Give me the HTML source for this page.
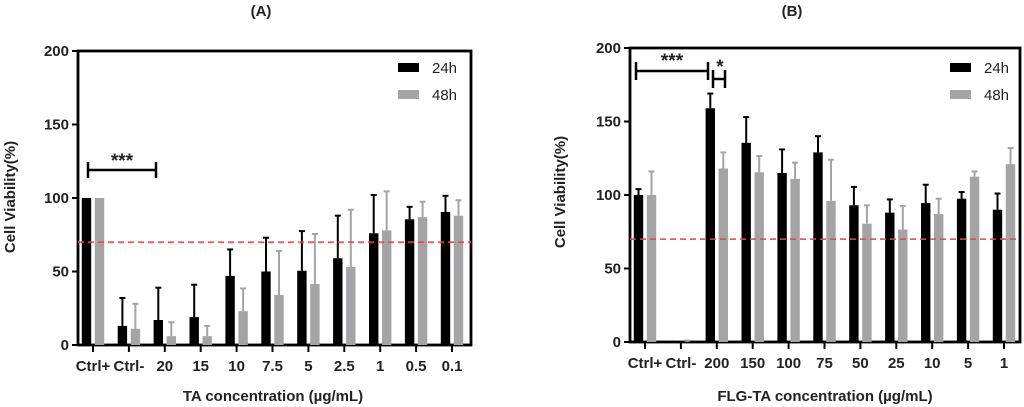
<!DOCTYPE html>
<html><head><meta charset="utf-8"><style>
body{margin:0;background:#fff}
svg{display:block;font-family:"Liberation Sans",Arial,sans-serif}
</style></head><body>
<svg id="chart" width="1024" height="407" viewBox="0 0 1024 407"></svg>
<script>
const catsA=["Ctrl+","Ctrl-","20","15","10","7.5","5","2.5","1","0.5","0.1"];
const a24=[100,13,17,19,47,50,50.5,59,76,85.5,90.5];
const a24err=[0,19,22,22,18,23,27,29,26,8.5,11];
const a48=[100,11,6,6,23,34,41.5,53,78,87,88];
const a48err=[0,17,9.5,7,15.5,30,34,39,26.5,10.5,10.5];
const catsB=["Ctrl+","Ctrl-","200","150","100","75","50","25","10","5","1"];
const b24=[100,0,159,135.5,115,129,93,88,94.5,97.5,90];
const b24err=[4,0,10,17.5,16,11,12.5,9,12.5,4.5,11];
const b48=[100,0,118,115.5,111,96,80.5,76.5,87,112.5,121];
const b48err=[16,1,11,11,11,28,12.5,16,10.5,3.5,11];
const yTicks=[0,50,100,150,200];
const threshold=70;

const svg=document.getElementById('chart');
const NS='http://www.w3.org/2000/svg';
function mk(tag,attrs,parent){const e=document.createElementNS(NS,tag);for(const k in attrs)e.setAttribute(k,attrs[k]);(parent||svg).appendChild(e);return e;}
function txt(s,attrs,parent){const e=mk('text',attrs,parent);e.textContent=s;return e;}

function panel(p){
  const g=mk('g',{});
  
  
  const y=v=>p.y0-(v/200)*(p.y0-p.top);
  const x=i=>p.x0+i*p.step;
  const f=mk('rect',{x:p.left,y:p.top,width:p.right-p.left,height:p.y0-p.top,fill:'none',stroke:'#000','stroke-width':2.8},g);
  
  yTicks.forEach(t=>{
    mk('line',{x1:p.left-6,x2:p.left,y1:y(t),y2:y(t),stroke:'#000','stroke-width':2},g);
    const l=txt(String(t),{x:p.left-9,y:y(t)+5,'text-anchor':'end','font-size':15,'font-weight':'bold',fill:'#222'},g);
    
  });
  p.cats.forEach((c,i)=>{
    mk('line',{x1:x(i),x2:x(i),y1:p.y0,y2:p.y0+7,stroke:'#000','stroke-width':2},g);
    const l=txt(c,{x:x(i),y:p.y0+26,'text-anchor':'middle','font-size':15,'font-weight':'bold',fill:'#222'},g);
    
    [[p.s1,p.e1,-6.5,'#000'],[p.s2,p.e2,6.5,'#a4a4a7']].forEach(([s,e,off,col],k)=>{
      const cx=x(i)+off, v=s[i], top=y(v+e[i]);
      if(e[i]>0){
        mk('line',{x1:cx,x2:cx,y1:top,y2:y(v),stroke:col,'stroke-width':2},g);
        mk('line',{x1:cx-3,x2:cx+3,y1:top,y2:top,stroke:col,'stroke-width':2},g);
      }
      const b=mk('rect',{x:cx-4.7,y:y(v),width:9.4,height:Math.max(0,p.y0-y(v)),fill:col},g);
      
      
    });
  });
  const dl=mk('line',{x1:p.left,x2:p.right,y1:y(threshold),y2:y(threshold),stroke:'#f04040','stroke-width':1.5,'stroke-dasharray':'6,4'},g);
  
  [['24h','#000',0],['48h','#a4a4a7',1]].forEach(([n,c,k])=>{
    const r=mk('rect',{x:p.legX,y:63+k*27,width:21,height:9,fill:c},g);
    
    const t=txt(n,{x:p.legX+34,y:73+k*27,'font-size':15,fill:'#222'},g);
    
  });
  const yt=txt('Cell Viability(%)',{transform:`translate(${p.ytX},${p.ytY}) rotate(-90)`,'text-anchor':'middle','font-size':15,'font-weight':'bold',fill:'#222'},g);
  
  const xt=txt(p.xtitle,{x:p.xtX,y:401,'text-anchor':'middle','font-size':15,'font-weight':'bold',fill:'#222'},g);
  
  const tt=txt(p.title,{x:p.tX,y:16,'text-anchor':'middle','font-size':15,'font-weight':'bold',fill:'#222'},g);
  
  return g;
}
const gA=panel({name:'panel-a',left:78,right:471,top:51,y0:345,x0:93,step:35.9,cats:catsA,s1:a24,e1:a24err,s2:a48,e2:a48err,legX:398,ytX:15,ytY:197,xtitle:'TA concentration (µg/mL)',xtX:273,title:'(A)',tX:261});
const gB=panel({name:'panel-b',left:630,right:1020,top:48,y0:342,x0:645,step:35.9,cats:catsB,s1:b24,e1:b24err,s2:b48,e2:b48err,legX:950,ytX:565,ytY:192,xtitle:'FLG-TA concentration (µg/mL)',xtX:825,title:'(B)',tX:792});
function bracket(g,x1,x2,yy,h,label,lx,ly){
  const b=mk('g',{},g);
  
  mk('line',{x1:x1,x2:x2,y1:yy,y2:yy,stroke:'#000','stroke-width':2.5},b);
  mk('line',{x1:x1,x2:x1,y1:yy-h,y2:yy+h,stroke:'#000','stroke-width':2.5},b);
  mk('line',{x1:x2,x2:x2,y1:yy-h,y2:yy+h,stroke:'#000','stroke-width':2.5},b);
  txt(label,{x:lx,y:ly,'text-anchor':'middle','font-size':19,'font-weight':'bold',fill:'#222'},b);
}
bracket(gA,88,156,170,8,'***',122,167);
bracket(gB,636,708,71,9,'***',672,67);
bracket(gB,713,725,79,9,'*',720,73);
</script>
</body></html>
